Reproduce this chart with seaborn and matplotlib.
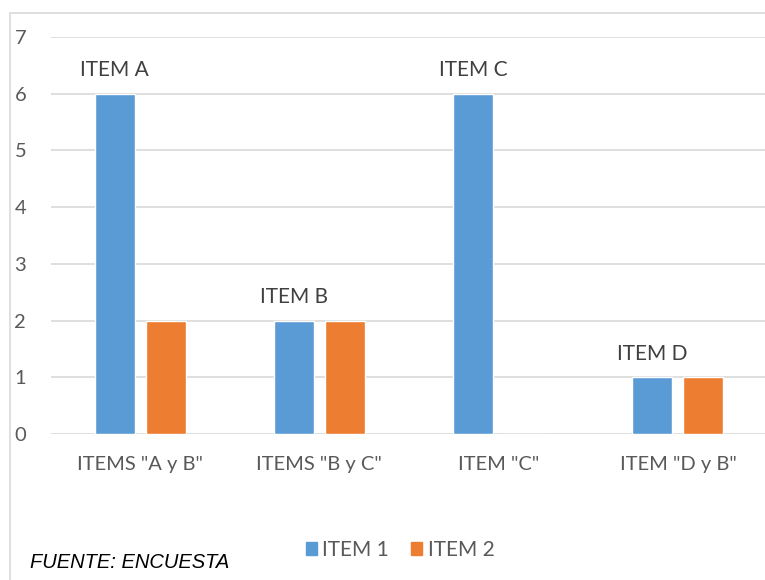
import matplotlib
matplotlib.use("Agg")
import matplotlib.pyplot as plt
import seaborn as sns
import pandas as pd
from matplotlib.patches import Rectangle
from matplotlib import font_manager

categories = ['ITEMS "A y B"', 'ITEMS "B y C"', 'ITEM "C"', 'ITEM "D y B"']
item1 = [6, 2, 6, 1]
item2 = [2, 2, 0, 1]
series_names = ["ITEM 1", "ITEM 2"]
bar_labels = ["ITEM A", "ITEM B", "ITEM C", "ITEM D"]
y_ticks = [0, 1, 2, 3, 4, 5, 6, 7]

df = pd.DataFrame({
    "categoria": categories * 2,
    "valor": item1 + item2,
    "serie": [series_names[0]] * len(categories) + [series_names[1]] * len(categories),
})

sns.set_theme(style="white")
plt.rcParams["font.family"] = ["Lato", "DejaVu Sans"]

W, H = 765, 580
fig = plt.figure(figsize=(W / 100, H / 100), dpi=100)

# outer chart border
fig.patches.append(Rectangle((10 / W, -0.05), 1.1, (H - 13) / H + 0.05,
                             transform=fig.transFigure, fill=False,
                             edgecolor="#D9D9D9", linewidth=1.2))

ax = fig.add_axes([50.5 / W, 146 / H, 717 / W, 397 / H])
sns.barplot(data=df, x="categoria", y="valor", hue="serie",
            palette=["#5B9BD5", "#ED7D31"], width=0.57, gap=0.216,
            saturation=1, ax=ax, legend=False)

ax.set_ylim(0, 7)
ax.set_yticks(y_ticks)
ax.yaxis.grid(True, color="#D9D9D9", linewidth=1.2)
ax.set_axisbelow(True)
for s in ax.spines.values():
    s.set_visible(False)
ax.tick_params(axis="y", length=0, pad=17.5, labelsize=14.5, labelcolor="#595959")
ax.tick_params(axis="x", length=0, pad=15.5, labelsize=14.5, labelcolor="#595959")
ax.set_xlabel("")
ax.set_ylabel("")

# labels above the ITEM 1 bars
blue_bars = ax.containers[0]
for bar, lab, v in zip(blue_bars, bar_labels, item1):
    cx = bar.get_x() + bar.get_width() / 2
    ax.annotate(lab, (cx, v), xytext=(0, 17), textcoords="offset points",
                ha="center", va="center", fontsize=15, color="#404040")

# legend
handles = [Rectangle((0, 0), 1, 1, color=c) for c in ["#5B9BD5", "#ED7D31"]]
fig.legend(handles, series_names, loc="center", bbox_to_anchor=(400 / W, 1 - 550 / H),
           ncol=2, frameon=False, fontsize=15, handlelength=0.55, handleheight=0.55,
           handletextpad=0.25, columnspacing=1.05, labelcolor="#595959")

names = {f.name for f in font_manager.fontManager.ttflist}
src_family = ["Liberation Sans Narrow"] if "Liberation Sans Narrow" in names else ["Liberation Sans"]
src_size = 17.5 if src_family[0] == "Liberation Sans Narrow" else 14.5
fig.text(30 / W, 1 - 563 / H, "FUENTE: ENCUESTA", ha="left", va="center",
         fontsize=src_size, style="italic", family=src_family + ["DejaVu Sans"],
         color="#000000")

fig.savefig("out.png", dpi=100)
